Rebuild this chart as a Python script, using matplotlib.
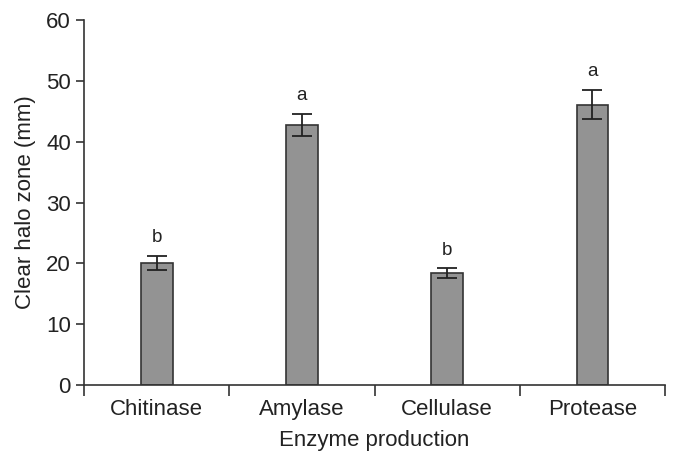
import numpy as np
import matplotlib
matplotlib.use("Agg")
import matplotlib.pyplot as plt

plt.rcParams['font.family'] = ['Liberation Sans', 'DejaVu Sans']

enzymes = ["Chitinase", "Amylase", "Cellulase", "Protease"]
halo = [20.1, 42.8, 18.4, 46.1]
err = [1.15, 1.85, 0.8, 2.4]
letters = ["b", "a", "b", "a"]

fig = plt.figure(figsize=(6.78, 4.69), dpi=100)
ax = fig.add_axes([0.124, 0.179, 0.857, 0.778])

x = np.arange(len(enzymes))
axis_col = "#333333"
ax.bar(x, halo, width=0.22, color="#939393", edgecolor=axis_col, linewidth=1.2,
       yerr=err, error_kw=dict(ecolor="#222222", elinewidth=1.3, capsize=7, capthick=1.3),
       zorder=2)

for xi, h, e, lab in zip(x, halo, err, letters):
    ax.annotate(lab, (xi, h + e), xytext=(0, 7), textcoords="offset points",
                ha="center", va="bottom", fontsize=13.5, color="#222222")

ax.set_xlim(-0.5, len(enzymes) - 0.5)
ax.set_ylim(0, 60)
ax.set_yticks(np.arange(0, 61, 10))
ax.set_xticks(x)
ax.set_xticklabels(enzymes)
ax.set_xticks(np.arange(-0.5, len(enzymes), 1), minor=True)
ax.tick_params(axis="x", which="major", length=0, pad=10, labelsize=16, labelcolor="#222222")
ax.tick_params(axis="x", which="minor", length=8, width=1.2, color=axis_col, direction="out")
ax.tick_params(axis="y", length=6, width=1.2, color=axis_col, labelsize=16, labelcolor="#222222")

for s in ["top", "right"]:
    ax.spines[s].set_visible(False)
for s in ["left", "bottom"]:
    ax.spines[s].set_color(axis_col)
    ax.spines[s].set_linewidth(1.2)

ax.set_xlabel("Enzyme production", fontsize=16, color="#222222", labelpad=7)
ax.set_ylabel("Clear halo zone (mm)", fontsize=16, color="#222222", labelpad=7)

fig.savefig("out.png", dpi=100)
